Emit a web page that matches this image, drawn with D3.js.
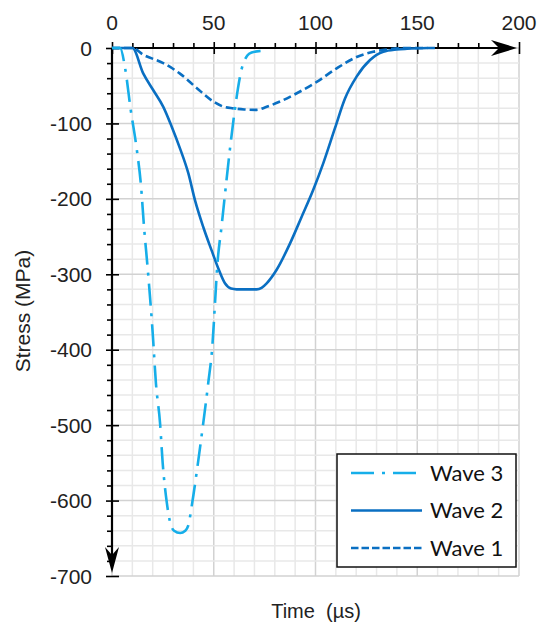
<!DOCTYPE html>
<html>
<head>
<meta charset="utf-8">
<script src="https://cdn.jsdelivr.net/npm/d3@7"></script>
<style>
  html, body { margin: 0; padding: 0; background: #fff; }
  svg { display: block; }
</style>
</head>
<body>
<svg id="chart" width="539" height="626"></svg>
<script>
// Stress waves: time (µs) and stress (MPa)
const wave3Time   = [0, 4, 6.4, 9.2, 12.1, 14.3, 15.7, 17.4, 19.0, 20.0, 21.6, 23.6, 24.9, 26.9, 28.5, 30.5, 33.5, 36.0, 37.5, 39.3, 42.4, 44.9, 47.3, 49.4, 50.6, 51.7, 53.9, 55.2, 58.0, 60.4, 63.7, 66.5, 68.6, 73];
const wave3Stress = [0, 0, -26, -82, -133, -184, -236, -288, -341, -378, -445, -497, -550, -602, -628, -640, -643, -640, -633, -605, -547, -496, -444, -392, -339, -290, -235, -202, -133, -81, -28, -10, -6, -4];

const wave2Time   = [0, 10, 15.4, 20.3, 25.2, 29.3, 33.4, 37.5, 40.8, 44.8, 48.9, 52.2, 55.5, 58.5, 61.2, 71.1, 73.5, 76.0, 80.9, 87.5, 93.0, 98.9, 103.8, 109.6, 114.5, 120.2, 126.8, 133.3, 139.9, 145, 155];
const wave2Stress = [0, 0, -34, -56, -78, -104, -133, -166, -202, -237, -268, -292, -312, -319, -320, -320, -318, -312, -294, -259, -225, -188, -153, -106, -67, -38, -16, -5, -2, -1, 0];

const wave1Time   = [0, 10, 15.4, 25.2, 33.4, 41.6, 49.8, 55.0, 59.6, 65.0, 71.1, 76.0, 82.6, 90.8, 100.6, 110.4, 120.2, 128.4, 135, 145, 160];
const wave1Stress = [0, 0, -9, -20, -34, -53, -71, -78, -80, -81.5, -82, -78, -71, -60, -45, -27, -12, -5, -2, 0, 0];

const seriesNames = ["Wave 3", "Wave 2", "Wave 1"];
const xTicks = [0, 50, 100, 150, 200];
const yTicks = [0, -100, -200, -300, -400, -500, -600, -700];

const svg = d3.select("#chart");
const x = d3.scaleLinear().domain([0, 200]).range([112, 519]);
const y = d3.scaleLinear().domain([0, -700]).range([48, 576]);

const lightBlue = "#16aee9";
const darkBlue = "#0a6fc2";
const series = [
  { name: seriesNames[0], t: wave3Time, s: wave3Stress, color: lightBlue, dash: "22,8,3,8" },
  { name: seriesNames[1], t: wave2Time, s: wave2Stress, color: darkBlue, dash: null },
  { name: seriesNames[2], t: wave1Time, s: wave1Stress, color: darkBlue, dash: "8,4" }
];

// Grid
const grid = svg.append("g");
d3.range(0, 201, 10).forEach(v => {
  grid.append("line")
    .attr("x1", x(v)).attr("x2", x(v)).attr("y1", y(0)).attr("y2", y(-700))
    .attr("stroke", v % 50 === 0 ? "#d2d2d2" : "#e8e8e8").attr("stroke-width", 1.5);
});
d3.range(0, -701, -20).forEach(v => {
  grid.append("line")
    .attr("x1", x(0)).attr("x2", x(200)).attr("y1", y(v)).attr("y2", y(v))
    .attr("stroke", v % 100 === 0 ? "#d2d2d2" : "#e8e8e8").attr("stroke-width", 1.5);
});

// Axes
const axTop = svg.append("g").attr("transform", `translate(0,${y(0)})`)
  .call(d3.axisTop(x).tickValues(d3.range(0, 201, 10)).tickSize(5).tickFormat(""));
const axLeft = svg.append("g").attr("transform", `translate(${x(0)},0)`)
  .call(d3.axisLeft(y).tickValues(d3.range(0, -701, -20)).tickSize(5).tickFormat(""));
[axTop, axLeft].forEach(a => {
  a.select(".domain").remove();
  a.selectAll(".tick line").attr("stroke", "#000").attr("stroke-width", 1.6);
});
// major ticks cross into the plot
axTop.selectAll(".tick").filter(d => d % 50 === 0).select("line").attr("y2", 6).attr("y1", -6);
axLeft.selectAll(".tick").filter(d => d % 100 === 0).select("line").attr("x2", 7).attr("x1", -6);

// axis lines with arrowheads
svg.append("line").attr("x1", x(0)).attr("x2", x(200) - 10).attr("y1", y(0)).attr("y2", y(0))
  .attr("stroke", "#000").attr("stroke-width", 2.2);
svg.append("line").attr("x1", x(0)).attr("x2", x(0)).attr("y1", y(0)).attr("y2", y(-700) - 10)
  .attr("stroke", "#000").attr("stroke-width", 2.2);
const ax0 = y(0), xr = x(200) - 2;
svg.append("path")
  .attr("d", `M${xr},${ax0} L${xr - 26},${ax0 - 8} L${xr - 18},${ax0} L${xr - 26},${ax0 + 8} Z`)
  .attr("fill", "#000");
const lx = x(0), yb = y(-700) - 3;
svg.append("path")
  .attr("d", `M${lx},${yb} L${lx - 7},${yb - 26} L${lx},${yb - 18} L${lx + 7},${yb - 26} Z`)
  .attr("fill", "#000");

// Tick labels
const labelFont = "'Liberation Sans', Arial, sans-serif";
svg.append("g").selectAll("text").data(xTicks).join("text")
  .attr("x", d => x(d)).attr("y", 30)
  .attr("text-anchor", "middle")
  .attr("font-family", labelFont).attr("font-size", 21).attr("fill", "#222")
  .text(d => d);
svg.append("g").selectAll("text").data(yTicks).join("text")
  .attr("x", 92).attr("y", d => y(d)).attr("dy", "0.36em")
  .attr("text-anchor", "end")
  .attr("font-family", labelFont).attr("font-size", 21).attr("fill", "#222")
  .text(d => d);

// Axis titles
svg.append("text")
  .attr("transform", `translate(30,311) rotate(-90)`)
  .attr("text-anchor", "middle")
  .attr("font-family", labelFont).attr("font-size", 21).attr("fill", "#222")
  .text("Stress (MPa)");
svg.append("text")
  .attr("x", 316).attr("y", 618)
  .attr("text-anchor", "middle")
  .attr("font-family", labelFont).attr("font-size", 20).attr("fill", "#222")
  .attr("xml:space", "preserve")
  .text("Time  (µs)");

// Curves
const line = d3.line().x(d => x(d[0])).y(d => y(d[1])).curve(d3.curveMonotoneX);
series.slice().reverse().forEach(sr => {
  svg.append("path")
    .datum(sr.t.map((t, i) => [t, sr.s[i]]))
    .attr("d", line)
    .attr("fill", "none")
    .attr("stroke", sr.color)
    .attr("stroke-width", 2.6)
    .attr("stroke-dasharray", sr.dash)
    .attr("stroke-linejoin", "round");
});

// Legend
const lg = svg.append("g");
lg.append("rect").attr("x", 337).attr("y", 454).attr("width", 179).attr("height", 113)
  .attr("fill", "#fff").attr("stroke", "#111").attr("stroke-width", 1.5);
series.forEach((sr, i) => {
  const ry = 473 + i * 37.5;
  lg.append("line").attr("x1", 351).attr("x2", 422).attr("y1", ry).attr("y2", ry)
    .attr("stroke", sr.color).attr("stroke-width", 2.6)
    .attr("stroke-dasharray", i === 0 ? "23,8,3,8" : (i === 2 ? "7.5,3" : null));
  lg.append("text").attr("x", 430).attr("y", ry).attr("dy", "0.36em")
    .attr("font-family", "Lato, 'Open Sans', sans-serif").attr("font-size", 22).attr("fill", "#111")
    .text(sr.name);
});
</script>
</body>
</html>
